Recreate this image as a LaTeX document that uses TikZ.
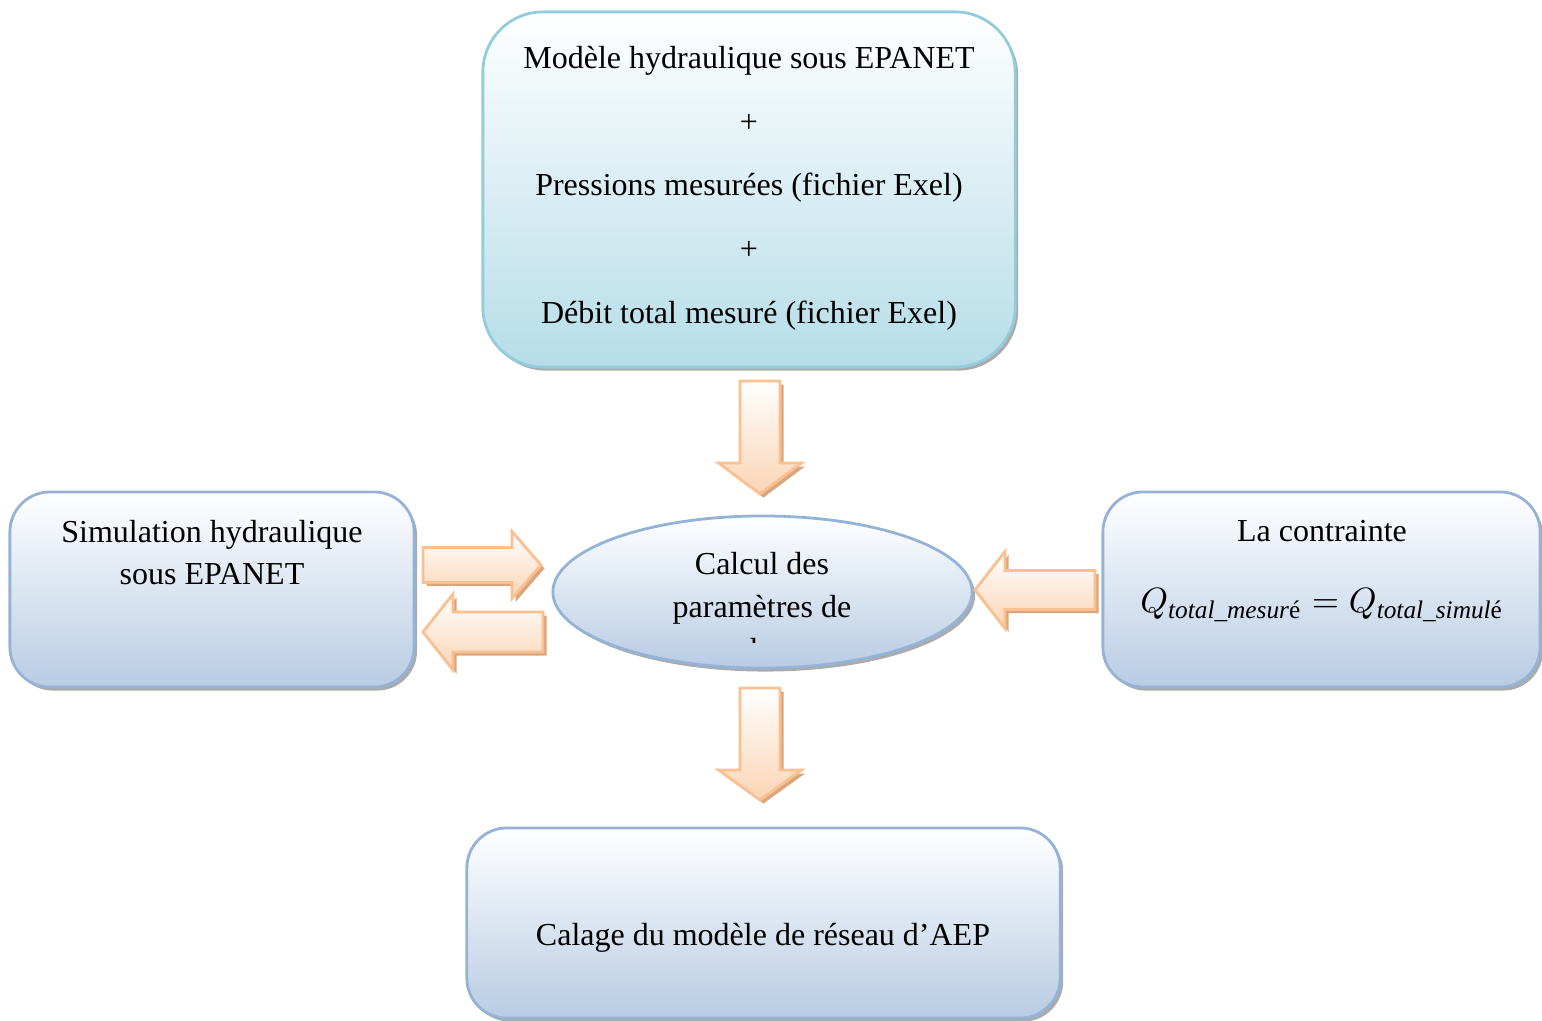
\documentclass[tikz,border=0pt]{standalone}
\usepackage{amsmath}
\usepackage{fontspec}
\setmainfont{Liberation Serif}
\usetikzlibrary{shapes.geometric, shadows}

\definecolor{fondcyan}{HTML}{B6DDE8}
\definecolor{bordcyan}{HTML}{93CDDD}
\definecolor{fondbleu}{HTML}{B8CCE4}
\definecolor{bordbleu}{HTML}{95B3D7}
\definecolor{peche}{HTML}{FBD4B4}
\definecolor{bordpeche}{HTML}{FAC090}
\definecolor{ombrepeche}{HTML}{D9A67E}

\begin{document}
\begin{tikzpicture}[x=0.01cm, y=-0.01cm,
  font=\fontsize{9.1}{12.2}\selectfont,
  boite/.style={draw=bordbleu, line width=0.8pt, top color=white,
    bottom color=fondbleu, rounded corners=0.4cm, inner sep=0pt, outer sep=0pt,
    drop shadow={shadow xshift=0.03cm, shadow yshift=-0.035cm, fill=black!55, opacity=0.6}},
  fleche/.style={draw=bordpeche, line width=0.8pt, top color=white, bottom color=peche,
    line join=miter,
    drop shadow={shadow xshift=0.035cm, shadow yshift=-0.035cm, fill=ombrepeche, opacity=1}},
  txt/.style={align=center, inner sep=0pt}]
  \useasboundingbox (0,0) rectangle (1542,1021);

  % les cadres
  \node[boite, draw=bordcyan, bottom color=fondcyan, rounded corners=0.6cm,
        minimum width=5.32cm, minimum height=3.55cm] (modele) at (749,189.5) {};
  \node[boite, minimum width=4.04cm, minimum height=1.95cm] (simul) at (212,589.5) {};
  \node[boite, minimum width=4.37cm, minimum height=1.95cm] (contr) at (1321.5,589.5) {};
  \node[boite, minimum width=5.93cm, minimum height=1.90cm] (calage) at (763.5,923) {};
  \node[ellipse, draw=bordbleu, line width=0.8pt, top color=white, bottom color=fondbleu,
        inner sep=0pt, minimum width=4.19cm, minimum height=1.52cm,
        drop shadow={shadow xshift=0.03cm, shadow yshift=-0.035cm, fill=black!55, opacity=0.6}]
        (calcul) at (762.5,592) {};

  % les textes
  \node[txt, font=\fontsize{9.1}{18.1}\selectfont] (tmodele) at (749,188)
    {Modèle hydraulique sous EPANET\\+\\Pressions mesurées (fichier Exel)\\+\\Débit total mesuré (fichier Exel)};
  \node[txt] (tsimul) at (212,552.5) {Simulation hydraulique\\sous EPANET};
  \node[txt] (tcontr) at (1322,531) {La contrainte};
  \node[txt] (tformule) at (1322,605)
    {\fontsize{10.4}{12}\selectfont
     $Q_{\text{\fontsize{7.2}{8}\selectfont\itshape total\_mesur\upshape é}}
      = Q_{\text{\fontsize{7.2}{8}\selectfont\itshape total\_simul\upshape é}}$};
  \node[txt] (tcalage) at (763,938) {Calage du modèle de réseau d’AEP};
  \begin{scope}
    \clip (553,516) rectangle (972,642);
    \node[txt] (tcalcul) at (762,610) {Calcul des\\paramètres de\\calage};
  \end{scope}

  % les fleches
  \coordinate (f1) at (760,381);
  \coordinate (f2) at (760,688);
  \coordinate (f3) at (423,565);
  \coordinate (f4) at (543,632);
  \coordinate (f5) at (1095,590);
  \draw[fleche] (f1) ++(-20,0) -- ++(40,0) -- ++(0,82) -- ++(21.5,0) -- ++(-41.5,31)
    -- ++(-41.5,-31) -- ++(21.5,0) -- cycle;
  \draw[fleche] (f2) ++(-20,0) -- ++(40,0) -- ++(0,82) -- ++(21.5,0) -- ++(-41.5,30)
    -- ++(-41.5,-30) -- ++(21.5,0) -- cycle;
  \draw[fleche] (f3) ++(0,-17.5) -- ++(89,0) -- ++(0,-16) -- ++(29,33.5) -- ++(-29,33.5)
    -- ++(0,-16) -- ++(-89,0) -- cycle;
  \draw[fleche] (f4) ++(0,-20) -- ++(-90,0) -- ++(0,-18) -- ++(-30,38) -- ++(30,38)
    -- ++(0,-18) -- ++(90,0) -- cycle;
  \draw[fleche] (f5) ++(0,-19.5) -- ++(-90,0) -- ++(0,-19) -- ++(-30,38.5) -- ++(30,38.5)
    -- ++(0,-19) -- ++(90,0) -- cycle;
\end{tikzpicture}
\end{document}
